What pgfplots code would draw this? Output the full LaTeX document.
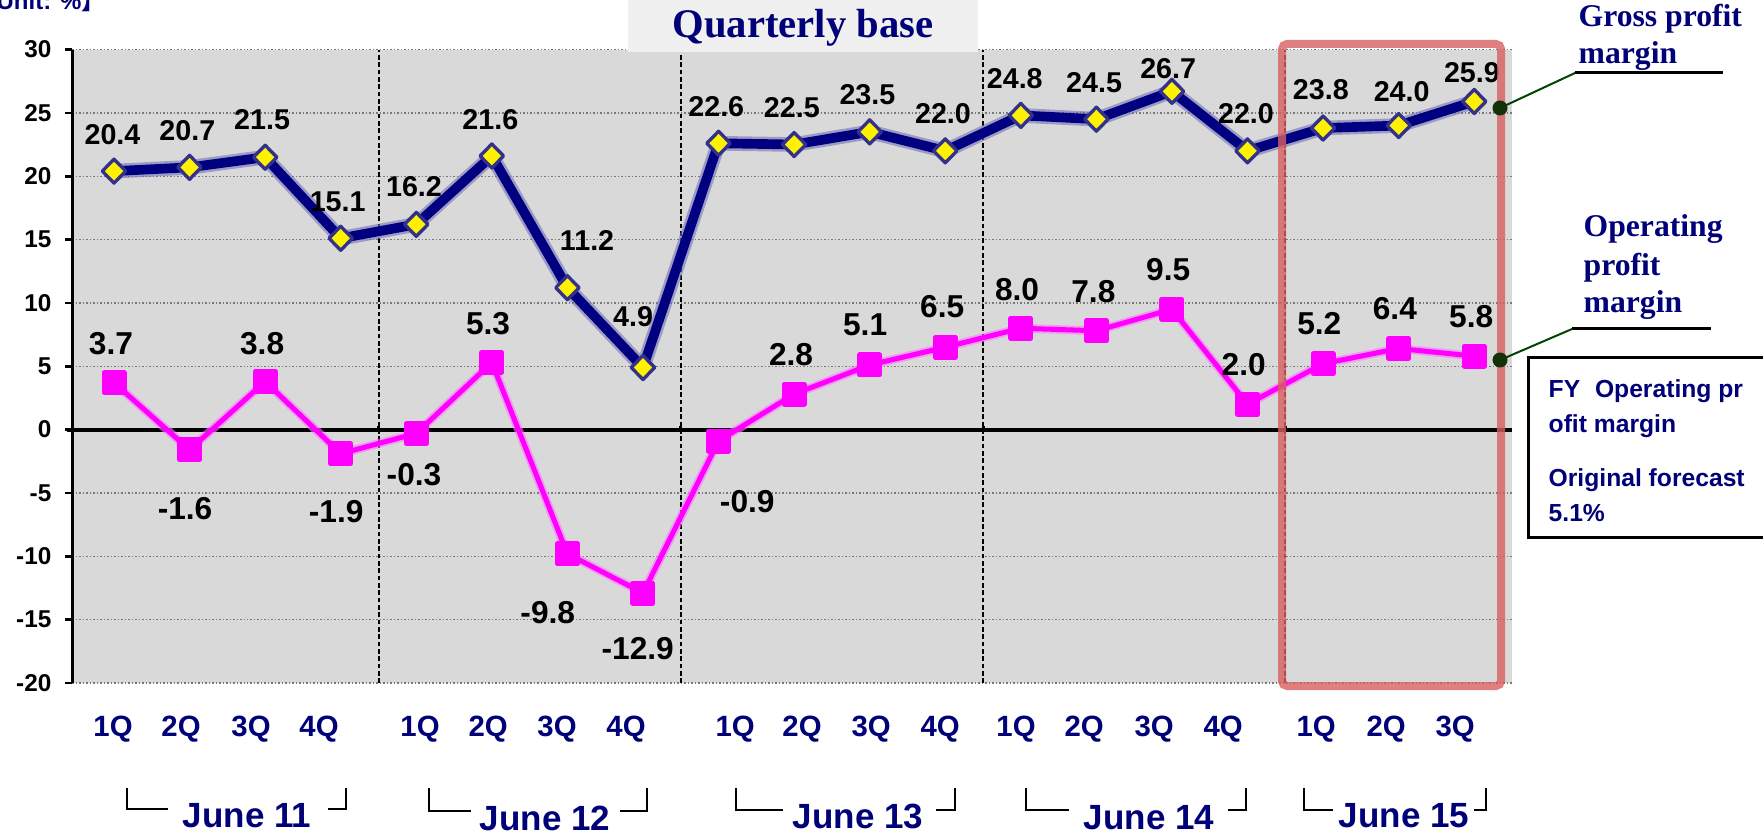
\documentclass[border=0pt]{standalone}
\usepackage{pgfplots}
\usepackage{pgfplotstable}
\pgfplotsset{compat=1.18}
\usepackage{fontspec}
\setmainfont{Liberation Sans}
\newfontfamily\timesfont{Liberation Serif}
\newfontfamily\cjk{Noto Sans CJK SC}
\definecolor{navytext}{RGB}{0,0,120}
\definecolor{navyline}{RGB}{0,0,128}
\definecolor{bggray}{RGB}{217,217,217}
\definecolor{gridgray}{RGB}{120,120,120}
\definecolor{boxred}{RGB}{215,95,95}
\definecolor{connect}{RGB}{0,70,0}
\definecolor{dotcol}{RGB}{20,50,10}
\definecolor{mag}{RGB}{255,0,255}
\definecolor{titlebg}{RGB}{240,240,240}
\definecolor{markborder}{RGB}{50,50,140}

\pgfplotstableread{
i gp op
0 20.4 3.7
1 20.7 -1.6
2 21.5 3.8
3 15.1 -1.9
4 16.2 -0.3
5 21.6 5.3
6 11.2 -9.8
7 4.9 -12.9
8 22.6 -0.9
9 22.5 2.8
10 23.5 5.1
11 22.0 6.5
12 24.8 8.0
13 24.5 7.8
14 26.7 9.5
15 22.0 2.0
16 23.8 5.2
17 24.0 6.4
18 25.9 5.8
}\datatable

\tikzset{
  gpl/.style={inner sep=0pt, anchor=center, font=\fontsize{8.6}{10}\selectfont\bfseries, text=black},
  opl/.style={inner sep=0pt, anchor=center, font=\fontsize{9.5}{11}\selectfont\bfseries, text=black},
  sep/.style={black, line width=0.6pt, dash pattern=on 1.4pt off 0.8pt},
}

\begin{document}
\begin{tikzpicture}[x=0.3pt,y=0.3pt]
\useasboundingbox (0,0) rectangle (1763,833);
\begin{axis}[
  at={(21.6pt,45pt)}, anchor=south west,
  scale only axis, width=432pt, height=190.05pt,
  xmin=-0.556, xmax=18.5, ymin=-20, ymax=30,
  axis x line*=bottom, axis y line*=left,
  axis line style={-},
  x axis line style={draw=none},
  y axis line style={black, line width=0.9pt},
  axis background/.style={fill=bggray},
  ytick={-20,-15,...,30},
  yticklabels={-20,-15,-10,-5,0,5,10,15,20,25,30},
  xtick={-0.013,0.887,1.813,2.713,4.050,4.950,5.863,6.776,8.219,9.105,10.019,10.932,11.937,12.837,13.764,14.677,15.908,16.834,17.748},
  xticklabels={1Q,2Q,3Q,4Q,1Q,2Q,3Q,4Q,1Q,2Q,3Q,4Q,1Q,2Q,3Q,4Q,1Q,2Q,3Q},
  tick align=outside,
  major tick length=2.1pt,
  ytick style={black, line width=0.8pt},
  xtick style={draw=none},
  ymajorgrids,
  major grid style={gridgray, line width=0.4pt, dash pattern=on 0.45pt off 0.6pt},
  yticklabel style={font=\fontsize{7.3}{8}\selectfont\bfseries, text=black, anchor=east, inner sep=0pt, xshift=-3.9pt},
  xticklabel style={font=\fontsize{8.8}{10}\selectfont\bfseries, text=navytext, anchor=base, inner sep=0pt, yshift=-13.8pt},
  clip=false,
]
% separators
\draw[sep] (axis cs:3.5,-20) -- (axis cs:3.5,30);
\draw[sep] (axis cs:7.5,-20) -- (axis cs:7.5,30);
\draw[sep] (axis cs:11.5,-20) -- (axis cs:11.5,30);
\draw[sep] (axis cs:15.5,-20) -- (axis cs:15.5,30);
% zero line
\draw[black, line width=1.15pt] (axis cs:-0.62,0) -- (axis cs:18.5,0);
\draw[black, line width=0.9pt] (axis cs:3.5,0) -- (axis cs:3.5,0.25);
\draw[black, line width=0.9pt] (axis cs:7.5,0) -- (axis cs:7.5,0.25);
\draw[black, line width=0.9pt] (axis cs:11.5,0) -- (axis cs:11.5,0.25);
\draw[black, line width=0.9pt] (axis cs:15.5,0) -- (axis cs:15.5,0.25);
% gross profit margin
\addplot[navyline!55!white, line width=4.4pt, opacity=0.6, no markers, line join=round] table[x=i,y=gp]{\datatable};
\addplot[navyline, line width=2.9pt, line join=round, mark=diamond*, mark size=3.6pt,
  mark options={solid, fill=yellow, draw=markborder, line width=1pt, xscale=1.3}] table[x=i,y=gp]{\datatable};
% operating profit margin
\addplot[mag!55!white, line width=2.6pt, opacity=0.6, no markers, line join=round] table[x=i,y=op]{\datatable};
\addplot[mag, line width=1.5pt, line join=round, mark=square*, mark size=3pt,
  mark options={solid, fill=mag, draw=mag}] table[x=i,y=op]{\datatable};
% labels gross
\node[gpl] at (axis cs:-0.02,23.3) {20.4};
\node[gpl] at (axis cs:0.97,23.6) {20.7};
\node[gpl] at (axis cs:1.96,24.5) {21.5};
\node[gpl] at (axis cs:2.96,18.0) {15.1};
\node[gpl] at (axis cs:3.97,19.2) {16.2};
\node[gpl] at (axis cs:4.98,24.5) {21.6};
\node[gpl] at (axis cs:6.26,14.95) {11.2};
\node[gpl] at (axis cs:6.87,8.9) {4.9};
\node[gpl] at (axis cs:7.97,25.5) {22.6};
\node[gpl] at (axis cs:8.97,25.4) {22.5};
\node[gpl] at (axis cs:9.97,26.4) {23.5};
\node[gpl] at (axis cs:10.97,24.95) {22.0};
\node[gpl] at (axis cs:11.92,27.7) {24.8};
\node[gpl] at (axis cs:12.97,27.4) {24.5};
\node[gpl] at (axis cs:13.95,28.5) {26.7};
\node[gpl] at (axis cs:14.98,24.95) {22.0};
\node[gpl] at (axis cs:15.97,26.85) {23.8};
\node[gpl] at (axis cs:17.04,26.65) {24.0};
\node[gpl] at (axis cs:17.97,28.2) {25.9};
% labels operating
\node[opl] at (axis cs:-0.04,6.8) {3.7};
\node[opl] at (axis cs:0.94,-6.2) {-1.6};
\node[opl] at (axis cs:1.96,6.8) {3.8};
\node[opl] at (axis cs:2.94,-6.5) {-1.9};
\node[opl] at (axis cs:3.97,-3.55) {-0.3};
\node[opl] at (axis cs:4.95,8.4) {5.3};
\node[opl] at (axis cs:5.74,-14.45) {-9.8};
\node[opl] at (axis cs:6.93,-17.3) {-12.9};
\node[opl] at (axis cs:8.38,-5.7) {-0.9};
\node[opl] at (axis cs:8.96,5.9) {2.8};
\node[opl] at (axis cs:9.94,8.25) {5.1};
\node[opl] at (axis cs:10.96,9.7) {6.5};
\node[opl] at (axis cs:11.95,11.05) {8.0};
\node[opl] at (axis cs:12.96,10.9) {7.8};
\node[opl] at (axis cs:13.95,12.6) {9.5};
\node[opl] at (axis cs:14.95,5.15) {2.0};
\node[opl] at (axis cs:15.95,8.4) {5.2};
\node[opl] at (axis cs:16.95,9.55) {6.4};
\node[opl] at (axis cs:17.96,8.9) {5.8};
\end{axis}

% title
\fill[titlebg] (628,781) rectangle (978,840);
\node[anchor=base, inner sep=0pt, text=navytext, font=\timesfont\bfseries\fontsize{12.2}{14}\selectfont] at (803,795) {Quarterly base};
% unit
\node[anchor=base west, inner sep=0pt, text=navytext, font=\bfseries\fontsize{7.2}{8}\selectfont] at (-4,823) {\llap{\cjk【}Unit: \%{\cjk】}};

% red highlight box
\draw[boxred, opacity=0.8, line width=2.4pt, rounded corners=1.5pt] (1282,147) rectangle (1501,789);

% leader lines
\draw[connect, line width=0.6pt] (1500,725) -- (1575,760);
\draw[black, line width=0.9pt] (1575,760) -- (1723,760);
\draw[connect, line width=0.6pt] (1500,473) -- (1572,504);
\draw[black, line width=0.9pt] (1572,504) -- (1711,504);
\fill[dotcol] (1500,725) circle (7.5);
\fill[dotcol] (1500,473) circle (7.5);

% legend texts
\begin{scope}[every node/.style={anchor=base west, inner sep=0pt, text=navytext, font=\timesfont\bfseries\fontsize{9.5}{11}\selectfont}]
\node at (1578,806) {Gross profit};
\node at (1578,769) {margin};
\node at (1583,596) {Operating};
\node at (1583,557) {profit};
\node at (1583,520) {margin};
\end{scope}

% FY box
\draw[black, line width=0.9pt, fill=white] (1528,295) rectangle (1780,475);
\begin{scope}[every node/.style={anchor=base west, inner sep=0pt, text=navytext, font=\bfseries\fontsize{7.4}{9}\selectfont}]
\node at (1548,435) {FY\hspace{0.6em}Operating pr};
\node at (1548,400) {ofit margin};
\node at (1548,346) {Original forecast};
\node at (1548,311) {5.1\%};
\end{scope}

% group labels
\begin{scope}[every node/.style={anchor=base, inner sep=0pt, text=navytext, font=\bfseries\fontsize{10.5}{12}\selectfont}]
\node at (247,6) {June 11};
\node at (545,3) {June 12};
\node at (858,5) {June 13};
\node at (1149,4) {June 14};
\node at (1404,6) {June 15};
\end{scope}
\begin{scope}[black, line width=0.65pt]
\draw (127,45) -- (127,24) -- (168,24);
\draw (328,24) -- (346,24) -- (346,45);
\draw (429,45) -- (429,22) -- (471,22);
\draw (620,22) -- (647,22) -- (647,45);
\draw (736,45) -- (736,23) -- (783,23);
\draw (936,23) -- (955,23) -- (955,45);
\draw (1026,45) -- (1026,23) -- (1069,23);
\draw (1228,23) -- (1246,23) -- (1246,45);
\draw (1304,45) -- (1304,23) -- (1333,23);
\draw (1474,23) -- (1486,23) -- (1486,45);
\end{scope}
\end{tikzpicture}
\end{document}
